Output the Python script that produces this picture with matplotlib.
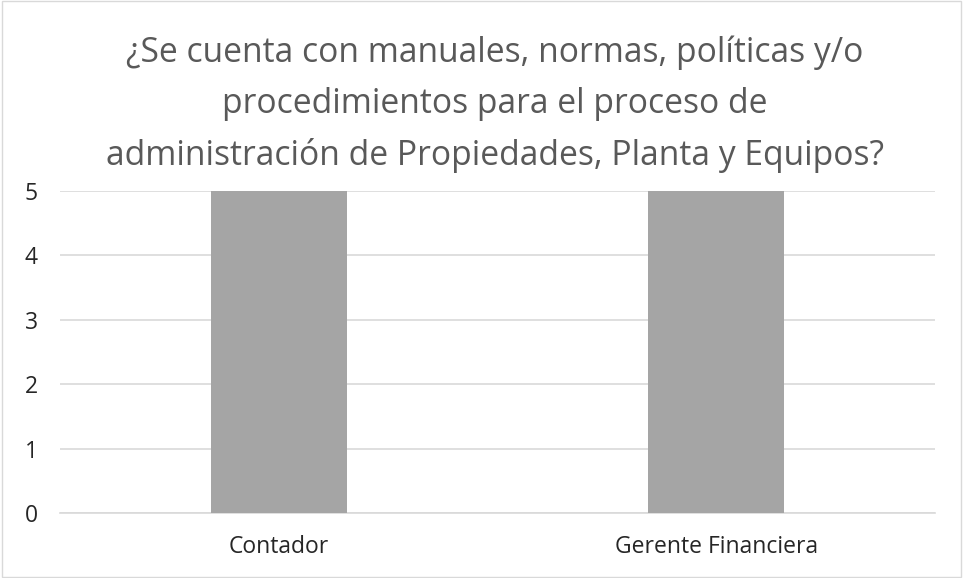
import matplotlib.pyplot as plt
from matplotlib.patches import Rectangle

categorias = ['Contador', 'Gerente Financiera']
valores = [5, 5]
titulo = '¿Se cuenta con manuales, normas, políticas y/o\nprocedimientos para el proceso de\nadministración de Propiedades, Planta y Equipos?'

plt.rcParams['font.family'] = ['Open Sans', 'DejaVu Sans']

fig = plt.figure(figsize=(9.63, 5.78), dpi=100)
ax = fig.add_axes([0.0623, 0.1125, 0.9087, 0.5571])

x = range(len(categorias))
ax.bar(x, valores, width=0.31, color='#a5a5a5', zorder=3)
ax.set_xlim(-0.5, len(categorias) - 0.5)
ax.set_ylim(0, 5)
ax.set_yticks(range(0, 6))
ax.set_xticks(list(x))
ax.set_xticklabels(categorias)
ax.yaxis.grid(True, color='#d9d9d9', linewidth=1.2, zorder=0)
for s in ['top', 'right', 'left']:
    ax.spines[s].set_visible(False)
ax.spines['bottom'].set_color('#d9d9d9')
ax.spines['bottom'].set_linewidth(1.2)
ax.tick_params(axis='both', length=0, labelsize=16.5, colors='#262626')
ax.tick_params(axis='y', pad=16)
ax.tick_params(axis='x', pad=16)

fig.text(0.514, 0.938, titulo, ha='center', va='top', fontsize=24.2,
         color='#595959', linespacing=1.63)

fig.patches.append(Rectangle((0.002, 0.002), 0.996, 0.996, transform=fig.transFigure,
                             fill=False, edgecolor='#d9d9d9', linewidth=1))

fig.savefig('out.png', dpi=100)
